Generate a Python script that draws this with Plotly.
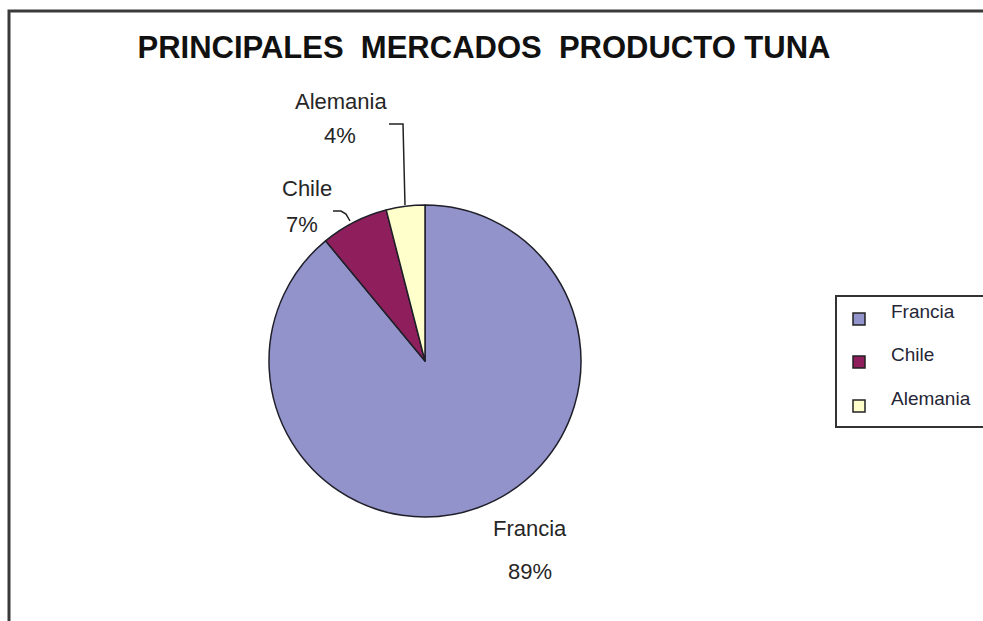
import plotly.graph_objects as go

# Market share data
markets = ["Francia", "Chile", "Alemania"]
shares = [89, 7, 4]
colors = ["#9393CB", "#8E1F5C", "#FFFFCC"]

W, H = 983, 621
TITLE = "PRINCIPALES  MERCADOS  PRODUCTO TUNA"
FONT = "Liberation Sans, Arial, sans-serif"


def px(x):
    return x / W


def py(y):
    return 1 - y / H


# Pie geometry (pixels)
cx, cy, r = 425, 361, 156

fig = go.Figure()
fig.add_trace(go.Pie(
    labels=markets,
    values=shares,
    marker=dict(colors=colors, line=dict(color="#1f1f2a", width=1.5)),
    sort=False,
    direction="clockwise",
    rotation=0,
    textinfo="none",
    hoverinfo="label+percent",
    showlegend=False,
    domain=dict(x=[px(cx - r), px(cx + r)], y=[py(cy + r), py(cy - r)]),
))

# Outside slice labels: name position and percent position
label_pos = {
    "Alemania": ((341, 101), (340, 136)),
    "Chile": ((307, 188), (302, 224)),
    "Francia": ((530, 528), (530, 571)),
}
annotations = []
for name, val in zip(markets, shares):
    (nx, ny), (vx, vy) = label_pos[name]
    for text, x, y in ((name, nx, ny), (f"{val}%", vx, vy)):
        annotations.append(dict(
            x=px(x), y=py(y), xref="paper", yref="paper",
            text=text, showarrow=False,
            font=dict(family=FONT, size=22, color="#262626"),
            xanchor="center", yanchor="middle",
        ))

shapes = []
# Frame around the chart area
shapes.append(dict(type="rect", xref="paper", yref="paper",
                   x0=px(9), y0=py(660), x1=px(1010), y1=py(11),
                   line=dict(color="#3a3a3a", width=3), fillcolor="rgba(0,0,0,0)"))


def path(points):
    d = "M " + " L ".join(f"{px(a):.5f},{py(b):.5f}" for a, b in points)
    return d


# Leader lines
shapes.append(dict(type="path", xref="paper", yref="paper",
                   path=path([(389, 124), (403, 124), (405, 205)]),
                   line=dict(color="#222222", width=1.5)))
shapes.append(dict(type="path", xref="paper", yref="paper",
                   path=path([(333, 211), (341, 211), (346, 214), (350, 221)]),
                   line=dict(color="#222222", width=1.5)))

# Legend box
shapes.append(dict(type="rect", xref="paper", yref="paper",
                   x0=px(836), y0=py(427), x1=px(1010), y1=py(296),
                   line=dict(color="#333333", width=2), fillcolor="white"))
legend_rows = [319, 362, 406]
for name, col, yy in zip(markets, colors, legend_rows):
    shapes.append(dict(type="rect", xref="paper", yref="paper",
                       x0=px(853), y0=py(yy + 6), x1=px(865), y1=py(yy - 6),
                       line=dict(color="#222222", width=1.5), fillcolor=col))
    annotations.append(dict(
        x=px(889), y=py(yy - 8), xref="paper", yref="paper",
        text=name, showarrow=False, xanchor="left", yanchor="middle",
        font=dict(family=FONT, size=19, color="#262636"),
    ))

fig.update_layout(
    width=W, height=H,
    margin=dict(l=0, r=0, t=0, b=0),
    paper_bgcolor="white", plot_bgcolor="white",
    title=dict(text=TITLE, x=px(484), y=py(47), xanchor="center", yanchor="middle",
               font=dict(family=FONT, size=31, color="#111111", weight="bold")),
    annotations=annotations,
    shapes=shapes,
)

fig.write_html("out.html")
